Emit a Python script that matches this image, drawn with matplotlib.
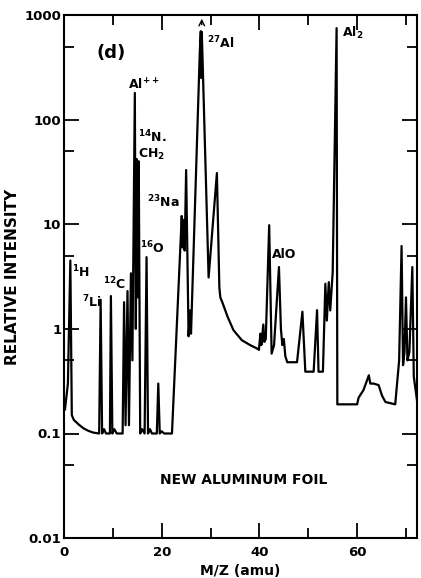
import numpy as np
import matplotlib
matplotlib.use("Agg")
import matplotlib.pyplot as plt
from matplotlib.ticker import LogLocator, FixedLocator, NullFormatter

# Fonte larga em negrito, como a do gráfico escaneado
plt.rcParams['font.family'] = ['DejaVu Sans']
plt.rcParams['font.weight'] = 'bold'
plt.rcParams['mathtext.fontset'] = 'custom'
plt.rcParams['mathtext.rm'] = 'DejaVu Sans:bold'
plt.rcParams['mathtext.bf'] = 'DejaVu Sans:bold'
plt.rcParams['mathtext.default'] = 'bf'

# Espectro (M/Z em amu, intensidade relativa)
mz = [0.2, 0.8, 1.3, 1.6, 2.0, 3.0, 4.0, 5.0, 6.0, 7.2, 7.5, 7.8, 8.2, 8.6,
      9.4, 9.6, 9.9, 10.3, 10.8, 11.5, 12.0, 12.3, 12.6, 13.0, 13.3, 13.7,
      14.0, 14.5, 14.7, 14.9, 15.1, 15.3, 15.6, 16.0, 16.5, 16.9, 17.2, 17.6,
      18.0, 19.0, 19.3, 19.6, 20.0, 20.5, 22.1, 24.0, 24.1, 24.3, 24.5, 24.7,
      25.0, 25.5, 25.8, 26.0, 27.8, 28.0, 28.1, 28.2, 28.35, 29.6, 31.3, 31.8,
      32.0, 32.5, 33.5, 34.7, 36.4, 38.1, 39.5, 39.9, 40.2, 40.4, 40.8, 41.0,
      41.3, 42.0, 42.5, 43.0, 44.0, 44.4, 44.7, 45.0, 45.3, 45.7, 47.7, 48.8,
      49.4, 51.1, 51.8, 52.1, 53.0, 53.5, 53.8, 54.2, 54.5, 55.0, 55.8, 55.95,
      60.0, 60.3, 61.3, 62.4, 62.7, 63.4, 64.4, 65.1, 65.8, 67.8, 68.6, 69.1,
      69.4, 69.7, 70.0, 70.3, 70.7, 71.3, 71.6, 72.3]
intensidade = [0.17, 0.3, 4.5, 0.15, 0.135, 0.122, 0.112, 0.106, 0.102, 0.1, 1.9, 0.1, 0.11, 0.1,
               0.1, 2.06, 0.1, 0.11, 0.1, 0.1, 0.1, 1.8, 0.12, 2.3, 0.12, 3.4,
               0.5, 180, 1.0, 42, 2, 40, 0.1, 0.11, 0.1, 4.85, 0.1, 0.11,
               0.1, 0.1, 0.3, 0.1, 0.105, 0.1, 0.1, 9.4, 12, 6, 11, 5.6,
               33, 0.85, 1.5, 0.9, 450, 700, 250, 690, 400, 3.1, 30.9, 2.5,
               2.0, 1.75, 1.3, 0.97, 0.78, 0.70, 0.65, 0.63, 0.9, 0.7, 1.1, 0.75,
               0.8, 9.8, 0.58, 0.7, 3.9, 1.0, 0.7, 0.8, 0.55, 0.48, 0.48, 1.46,
               0.39, 0.39, 1.51, 0.39, 0.39, 2.7, 1.2, 2.8, 1.5, 3.5, 750, 0.19,
               0.19, 0.22, 0.26, 0.36, 0.3, 0.3, 0.29, 0.23, 0.2, 0.19, 0.5, 6.2,
               0.45, 0.6, 2.0, 0.5, 0.6, 3.9, 0.35, 0.2]

# Rótulos dos picos: texto e posição (canto esquerdo)
rotulos = [r'$^{1}$H', r'$^{7}$Li', r'$^{12}$C', r'Al$^{++}$', r'$^{14}$N.',
           r'CH$_2$', r'$^{23}$Na', r'$^{16}$O', r'$^{27}$Al', r'AlO', r'Al$_2$']
rot_x = [1.6, 3.7, 8.0, 13.1, 15.2, 15.2, 17.0, 15.6, 29.3, 42.6, 57.0]
rot_y = [3.5, 1.8, 2.7, 214, 68, 46, 16.3, 5.9, 540, 5.1, 673]

fig = plt.figure(figsize=(4.21, 5.78), dpi=100)
ax = fig.add_axes([0.152, 0.069, 0.839, 0.905])

ax.plot(mz, intensidade, color='black', linewidth=1.6)

ax.set_yscale('log')
ax.set_xlim(0, 72.3)
ax.set_ylim(0.01, 1000)

# Ticks para dentro nos quatro lados
ax.xaxis.set_major_locator(FixedLocator([0, 20, 40, 60]))
ax.xaxis.set_minor_locator(FixedLocator([10, 30, 50, 70]))
ax.set_yticks([0.01, 0.1, 1, 10, 100, 1000])
ax.set_yticklabels(['0.01', '0.1', '1', '10', '100', '1000'])
ax.yaxis.set_minor_locator(LogLocator(base=10, subs=[5], numticks=10))
ax.yaxis.set_minor_formatter(NullFormatter())
ax.tick_params(which='major', direction='in', length=11, width=1.3,
               top=True, right=True, labelsize=9.5)
ax.tick_params(axis='y', which='major', pad=2)
ax.tick_params(axis='x', which='major', pad=6)
ax.tick_params(which='minor', direction='in', length=7, width=1.3,
               top=True, right=True)
for s in ax.spines.values():
    s.set_linewidth(1.5)

ax.set_xlabel('M/Z (amu)', fontsize=10, fontweight='bold', labelpad=3)
ax.set_ylabel('RELATIVE INTENSITY', fontsize=11, fontweight='bold', labelpad=3)

# Rótulos dos picos
for txt, x, y in zip(rotulos, rot_x, rot_y):
    ax.text(x, y, txt, fontsize=9, fontweight='bold', ha='left', va='center')

# Seta indicando pico fora de escala
ax.annotate('', xy=(28.2, 980), xytext=(28.2, 760),
            arrowprops=dict(arrowstyle='->', color='black', lw=1))

ax.text(9.6, 433, '(d)', fontsize=13, fontweight='bold', ha='center', va='center')
ax.text(36.7, 0.036, 'NEW ALUMINUM FOIL', fontsize=10, fontweight='bold',
        ha='center', va='center')

fig.savefig('out.png', dpi=100)
